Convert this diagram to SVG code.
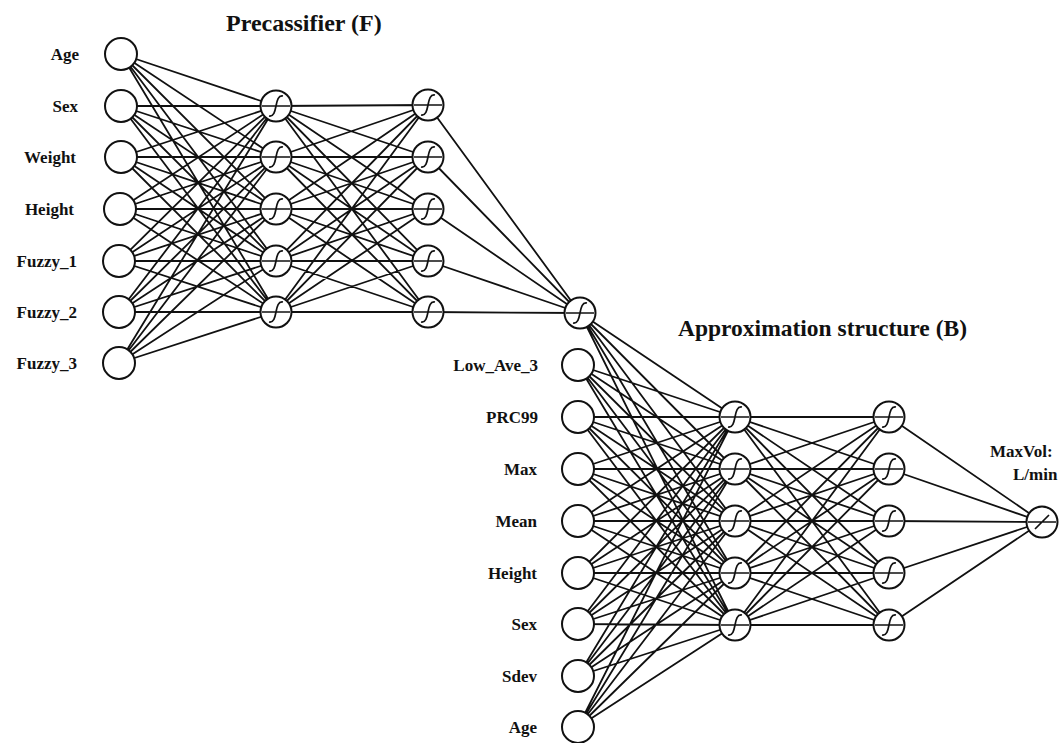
<svg xmlns="http://www.w3.org/2000/svg" xmlns:xlink="http://www.w3.org/1999/xlink" width="1064" height="743" viewBox="0 0 1064 743">
<style>
.c{stroke:#111;stroke-width:1.8;fill:none}
.n{fill:#fff;stroke:#111;stroke-width:2}
.s{fill:none;stroke:#111;stroke-width:1.7}
.lbl{font-family:"Liberation Serif",serif;font-weight:bold;font-size:17px;fill:#111}
.ttl{font-family:"Liberation Serif",serif;font-weight:bold;font-size:24px;fill:#111}
</style>
<defs>
<g id="inp"><circle r="16" class="n"/></g>
<g id="sig"><circle r="15.5" class="n"/><path class="s" d="M-14,0H14M-7,10C-2,11 -1,5 0,0C1,-5 2,-11 7,-10"/></g>
<g id="lin"><circle r="15.5" class="n"/><path class="s" d="M-14,0H14M-7,7L7,-7"/></g>
</defs>
<rect width="1064" height="743" fill="#fff"/>
<g id="connectors" class="c">
<path d="M121,54L276,106M121,54L276,157M121,54L276,209M121,54L276,261M121,54L276,312
M121,106L276,106M121,106L276,157M121,106L276,209M121,106L276,261M121,106L276,312
M121,157L276,106M121,157L276,157M121,157L276,209M121,157L276,261M121,157L276,312
M120,209L276,106M120,209L276,157M120,209L276,209M120,209L276,261M120,209L276,312
M119,261L276,106M119,261L276,157M119,261L276,209M119,261L276,261M119,261L276,312
M119,312L276,106M119,312L276,157M119,312L276,209M119,312L276,261M119,312L276,312
M119,363L276,106M119,363L276,157M119,363L276,209M119,363L276,261M119,363L276,312"/>
<path d="M276,106L428,105M276,106L428,157M276,106L428,209M276,106L428,261M276,106L428,312
M276,157L428,105M276,157L428,157M276,157L428,209M276,157L428,261M276,157L428,312
M276,209L428,105M276,209L428,157M276,209L428,209M276,209L428,261M276,209L428,312
M276,261L428,105M276,261L428,157M276,261L428,209M276,261L428,261M276,261L428,312
M276,312L428,105M276,312L428,157M276,312L428,209M276,312L428,261M276,312L428,312"/>
<path d="M428,105L580,313M428,157L580,313M428,209L580,313M428,261L580,313M428,312L580,313"/>
<path d="M580,313L735,417M580,313L735,469M580,313L735,521M580,313L735,573M580,313L735,625
M578,365L735,417M578,365L735,469M578,365L735,521M578,365L735,573M578,365L735,625
M578,417L735,417M578,417L735,469M578,417L735,521M578,417L735,573M578,417L735,625
M578,469L735,417M578,469L735,469M578,469L735,521M578,469L735,573M578,469L735,625
M578,521L735,417M578,521L735,469M578,521L735,521M578,521L735,573M578,521L735,625
M578,573L735,417M578,573L735,469M578,573L735,521M578,573L735,573M578,573L735,625
M578,624L735,417M578,624L735,469M578,624L735,521M578,624L735,573M578,624L735,625
M578,676L735,417M578,676L735,469M578,676L735,521M578,676L735,573M578,676L735,625
M578,727L735,417M578,727L735,469M578,727L735,521M578,727L735,573M578,727L735,625"/>
<path d="M735,417L889,417M735,417L889,469M735,417L889,521M735,417L889,573M735,417L889,625
M735,469L889,417M735,469L889,469M735,469L889,521M735,469L889,573M735,469L889,625
M735,521L889,417M735,521L889,469M735,521L889,521M735,521L889,573M735,521L889,625
M735,573L889,417M735,573L889,469M735,573L889,521M735,573L889,573M735,573L889,625
M735,625L889,417M735,625L889,469M735,625L889,521M735,625L889,573M735,625L889,625"/>
<path d="M889,417L1042,522M889,469L1042,522M889,521L1042,522M889,573L1042,522M889,625L1042,522"/>
</g>
<text class="ttl" x="226" y="31">Precassifier (F)</text>
<text class="ttl" x="678" y="336" style="font-size:23.5px">Approximation structure (B)</text>
<g id="in_age"><use xlink:href="#inp" x="121" y="54"/><text class="lbl" x="79" y="60" text-anchor="end">Age</text></g>
<g id="in_sex"><use xlink:href="#inp" x="121" y="106"/><text class="lbl" x="78" y="112" text-anchor="end">Sex</text></g>
<g id="in_weight"><use xlink:href="#inp" x="121" y="157"/><text class="lbl" x="76" y="163" text-anchor="end">Weight</text></g>
<g id="in_height"><use xlink:href="#inp" x="120" y="209"/><text class="lbl" x="74" y="215" text-anchor="end">Height</text></g>
<g id="in_fuzzy1"><use xlink:href="#inp" x="119" y="261"/><text class="lbl" x="77" y="267" text-anchor="end">Fuzzy_1</text></g>
<g id="in_fuzzy2"><use xlink:href="#inp" x="119" y="312"/><text class="lbl" x="77" y="318" text-anchor="end">Fuzzy_2</text></g>
<g id="in_fuzzy3"><use xlink:href="#inp" x="119" y="363"/><text class="lbl" x="77" y="369" text-anchor="end">Fuzzy_3</text></g>
<g id="f_h1_1"><use xlink:href="#sig" x="276" y="106"/></g>
<g id="f_h1_2"><use xlink:href="#sig" x="276" y="157"/></g>
<g id="f_h1_3"><use xlink:href="#sig" x="276" y="209"/></g>
<g id="f_h1_4"><use xlink:href="#sig" x="276" y="261"/></g>
<g id="f_h1_5"><use xlink:href="#sig" x="276" y="312"/></g>
<g id="f_h2_1"><use xlink:href="#sig" x="428" y="105"/></g>
<g id="f_h2_2"><use xlink:href="#sig" x="428" y="157"/></g>
<g id="f_h2_3"><use xlink:href="#sig" x="428" y="209"/></g>
<g id="f_h2_4"><use xlink:href="#sig" x="428" y="261"/></g>
<g id="f_h2_5"><use xlink:href="#sig" x="428" y="312"/></g>
<g id="f_out"><use xlink:href="#sig" x="580" y="313"/></g>
<g id="b_in_lowave3"><use xlink:href="#inp" x="578" y="365"/><text class="lbl" x="538" y="371" text-anchor="end">Low_Ave_3</text></g>
<g id="b_in_prc99"><use xlink:href="#inp" x="578" y="417"/><text class="lbl" x="538" y="423" text-anchor="end">PRC99</text></g>
<g id="b_in_max"><use xlink:href="#inp" x="578" y="469"/><text class="lbl" x="537" y="475" text-anchor="end">Max</text></g>
<g id="b_in_mean"><use xlink:href="#inp" x="578" y="521"/><text class="lbl" x="537" y="527" text-anchor="end">Mean</text></g>
<g id="b_in_height"><use xlink:href="#inp" x="578" y="573"/><text class="lbl" x="537" y="579" text-anchor="end">Height</text></g>
<g id="b_in_sex"><use xlink:href="#inp" x="578" y="624"/><text class="lbl" x="537" y="630" text-anchor="end">Sex</text></g>
<g id="b_in_sdev"><use xlink:href="#inp" x="578" y="676"/><text class="lbl" x="537" y="682" text-anchor="end">Sdev</text></g>
<g id="b_in_age"><use xlink:href="#inp" x="578" y="727"/><text class="lbl" x="537" y="733" text-anchor="end">Age</text></g>
<g id="b_h1_1"><use xlink:href="#sig" x="735" y="417"/></g>
<g id="b_h1_2"><use xlink:href="#sig" x="735" y="469"/></g>
<g id="b_h1_3"><use xlink:href="#sig" x="735" y="521"/></g>
<g id="b_h1_4"><use xlink:href="#sig" x="735" y="573"/></g>
<g id="b_h1_5"><use xlink:href="#sig" x="735" y="625"/></g>
<g id="b_h2_1"><use xlink:href="#sig" x="889" y="417"/></g>
<g id="b_h2_2"><use xlink:href="#sig" x="889" y="469"/></g>
<g id="b_h2_3"><use xlink:href="#sig" x="889" y="521"/></g>
<g id="b_h2_4"><use xlink:href="#sig" x="889" y="573"/></g>
<g id="b_h2_5"><use xlink:href="#sig" x="889" y="625"/></g>
<g id="b_out"><use xlink:href="#lin" x="1042" y="522"/><text class="lbl" x="990" y="457">MaxVol:</text><text class="lbl" x="1013" y="480">L/min</text></g>
</svg>
